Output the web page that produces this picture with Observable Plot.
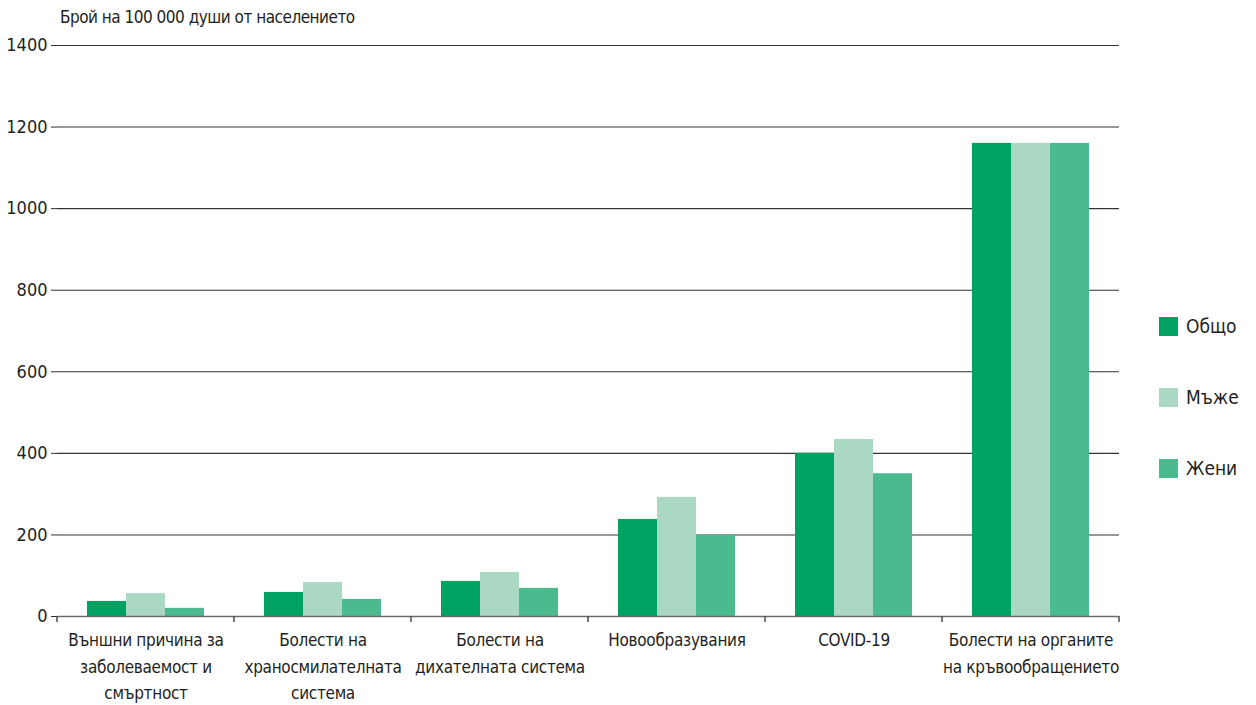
<!DOCTYPE html>
<html>
<head>
<meta charset="utf-8">
<script src="https://cdn.jsdelivr.net/npm/d3@7"></script>
<script src="https://cdn.jsdelivr.net/npm/@observablehq/plot@0.6"></script>
<style>
  html, body { margin: 0; padding: 0; background: #fff; }
  #wrap { position: relative; width: 1256px; height: 705px; font-family: "DejaVu Sans Condensed", "DejaVu Sans", sans-serif; font-stretch: condensed; color: #231f20; }
  #title { position: absolute; left: 60px; top: 7px; font-size: 17px; letter-spacing: -0.5px; white-space: nowrap; }
  #chart { position: absolute; left: 0; top: 16px; }
  #legend { position: absolute; left: 1159px; top: 316px; }
  .item { display: flex; align-items: center; height: 20px; margin-bottom: 51px; font-size: 19px; }
  .sw { width: 19px; height: 19px; margin-right: 8px; }
  svg text { font-stretch: condensed; }
  g[aria-label="fx-axis tick label"] text { letter-spacing: -0.3px; }
</style>
</head>
<body>
<div id="wrap">
  <div id="title">Брой на 100 000 души от населението</div>
  <div id="chart"></div>
  <div id="legend"></div>
</div>
<script>
const categories = [
  "Външни причина за заболеваемост и смъртност",
  "Болести на храносмилателната система",
  "Болести на дихателната система",
  "Новообразувания",
  "COVID-19",
  "Болести на органите на кръвообращението"
];
const tickLabels = [
  "Външни причина за\nзаболеваемост и\nсмъртност",
  "Болести на\nхраносмилателната\nсистема",
  "Болести на\nдихателната система",
  "Новообразувания",
  "COVID-19",
  "Болести на органите\nна кръвообращението"
];
const series = ["Общо", "Мъже", "Жени"];
const total = [37, 59, 86, 238, 400, 1160];
const men   = [56, 83, 108, 292, 434, 1160];
const women = [20, 42, 69, 199, 350, 1160];
const yTicks = [0, 200, 400, 600, 800, 1000, 1200, 1400];
const colors = ["#00a262", "#abd8c3", "#4bbb8f"];

const values = [total, men, women];
const data = [];
categories.forEach((c, i) => {
  series.forEach((s, j) => data.push({category: c, series: s, value: values[j][i]}));
});

const plot = Plot.plot({
  width: 1145,
  height: 689,
  marginTop: 29,
  marginBottom: 89,
  marginLeft: 55,
  marginRight: 24,
  style: {fontFamily: '"DejaVu Sans Condensed", "DejaVu Sans", sans-serif', fontSize: "18px", color: "#231f20", background: "transparent"},
  fx: {domain: categories, padding: 0},
  x: {domain: series, paddingInner: 0, paddingOuter: 0.755, axis: null},
  y: {domain: [0, 1400]},
  color: {domain: series, range: colors},
  marks: [
    Plot.ruleY(yTicks.filter(d => d > 0), {stroke: "#333333", strokeWidth: 1.1}),
    Plot.barY(data, {fx: "category", x: "series", y: "value", fill: "series", inset: 0}),
    Plot.ruleY([0], {stroke: "#6b6b6b", strokeWidth: 1.5}),
    Plot.axisY({ticks: yTicks, tickSize: 6, tickPadding: 4, label: null, stroke: "#333333", fontSize: 18, tickFormat: d3.format("d")}),
    Plot.axisFx({anchor: "bottom", tickSize: 0, tickPadding: 11, label: null, lineHeight: 1.55, fontSize: 17,
      tickFormat: d => tickLabels[categories.indexOf(d)]})
  ]
});

const fx = plot.scale("fx");
const y0 = plot.scale("y").apply(0);
const bounds = categories.map(c => fx.apply(c));
bounds.push(fx.apply(categories[categories.length - 1]) + fx.bandwidth);
d3.select(plot).append("g")
  .selectAll("line").data(bounds).join("line")
  .attr("x1", d => d).attr("x2", d => d)
  .attr("y1", y0).attr("y2", y0 + 6)
  .attr("stroke", "#4a4a4a").attr("stroke-width", 1.5);

document.getElementById("chart").appendChild(plot);

const legend = d3.select("#legend");
series.forEach((s, j) => {
  const it = legend.append("div").attr("class", "item");
  it.append("div").attr("class", "sw").style("background", colors[j]);
  it.append("span").text(s);
});
</script>
</body>
</html>
